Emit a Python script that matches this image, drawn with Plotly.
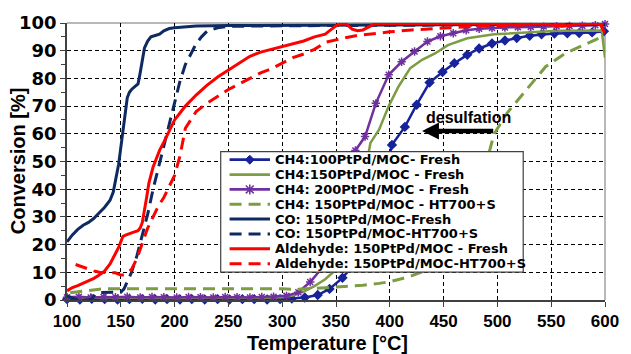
import plotly.graph_objects as go

# ---------------- data ----------------
ch4_100_x = [100,112,123,135,147,158,170,182,193,205,216,228,240,251,263,274,286,298,309,321,
             333,344,356,367,379,391,402,414,425,437,449,460,472,483,495,507,518,530,541,553,
             565,576,588,599]
ch4_100_y = [0.3,0.2,0.4,0.3,0.2,0.3,0.4,0.2,0.3,0.2,0.3,0.2,0.3,0.2,0.3,0.3,0.2,0.3,0.5,0.9,
             1.8,4.0,8.0,13,22,38,56,62.5,70.5,78.5,82.3,85.5,88.5,90.8,92.6,93.7,94.6,95.4,95.9,96.2,
             96.3,96.4,96.6,97.0]

ch4_150_x = [100,120,140,160,180,200,220,240,260,280,300,310,320,330,340,350,360,370,382,390,
             399,408,419,430,442,454,472,497,527,557,597,600]
ch4_150_y = [1.0,0.9,0.8,0.9,0.8,0.7,0.8,0.7,0.8,0.8,1.0,1.6,3.0,5.0,7.5,11,16,32,56.7,61.5,
             70,77,83.7,86.7,89,92,94.5,95.9,96.6,97.2,97.3,87.5]

ch4_200_x = [100,111,122,134,145,156,168,179,190,202,213,224,236,247,258,270,281,292,304,315,
             326,338,349,360,368,377,387,399,411,423,435,447,459,471,483,495,507,519,531,543,
             555,567,579,591,600]
ch4_200_y = [1.0,1.2,0.9,1.1,1.0,1.2,0.9,1.1,1.0,0.9,1.1,1.0,0.9,1.1,1.0,0.9,1.1,1.2,1.5,2.8,
             6.5,12,20,38,54,59,71,81.3,86,89.7,93.3,95.2,96.3,97.4,97.9,98.2,98.4,98.5,98.6,98.7,
             98.8,98.9,99.0,99.2,99.6]

ch4_ht_x = [103,110,120,130,140,150,160,180,200,220,240,260,280,300,310,320,330,340,350,360,
            375,390,400,410,420,430,440,460,480,490,497,509,527,545,563,580,594]
ch4_ht_y = [2.6,3.0,3.5,3.9,4.1,4.1,4.1,4.1,4.1,4.1,4.1,4.1,4.1,4.1,3.8,3.9,4.2,4.4,4.6,4.9,
            5.3,6.0,6.6,7.6,8.7,10.2,13,22,38,50,60,67.5,76,84.3,89,92,94.5]

co_x = [100,105,110,115,120,125,130,135,140,143,145,148,150,152,154,156,158,160,163,166,
        168,170,172,175,178,182,186,190,195,200,210,220,250,300,350,400,450,500,550,600]
co_y = [21,23.5,25.5,27,28,29.5,31.5,33.5,36,39,43,49,55,61,68,73,75,76,77,78,
        82,87,91,93.5,95,95.5,96,97.2,98,98.3,98.7,98.9,99.1,99.2,99.3,99.4,99.5,99.5,99.5,99.5]

co_ht_x = [100,105,110,115,120,123,126,130,140,150,153,156,160,165,170,175,180,185,190,195,
           200,205,210,215,220,225,230,240,250,300,400,500,600]
co_ht_y = [1.5,0.8,0,0,0,0.3,2,2.7,2.7,2.8,4,6.5,10,16,23,31,40,48,56,64,
           72,79,85,89,92.5,95,97,98.3,98.8,99,99.2,99.4,99.5]

ald_x = [100,105,110,115,120,125,130,135,140,143,146,148,150,152,155,158,162,166,168,170,
         172,174,176,178,180,183,186,190,195,200,205,210,220,230,240,250,260,270,280,290,
         300,310,320,330,340,345,350,355,360,365,370,375,380,385,390,400,450,500,520,540,
         560,580,595,600]
ald_y = [3.3,4.5,5.2,6,6.8,7.8,9,10.5,13,15,17.5,19,21,23,23.5,24,24.5,25,26,28,
         32,37,42,45,48,51,54,57,61,65,67.5,70,74,77.5,80.5,83,85.5,88,89.5,90.5,
         91.5,92.5,93.5,95,96,97.5,99,99.8,99.5,97.8,97.2,97.5,98.5,99.5,99.8,99.8,99.8,99.8,99.2,99.8,
         98.8,99.8,99.8,96.3]

ald_ht_x = [108,112,116,120,125,130,135,140,145,150,153,156,160,165,170,175,180,185,190,195,
            200,205,210,215,220,230,240,250,260,270,280,290,300,310,320,330,340,350,360,370,
            380,400,420,440,460,480,500,520,550,600]
ald_ht_y = [12.8,12.2,11.6,11,10.5,10,9.9,10,9.8,9,9,9.8,11,15,20.5,26,30,34,37,41,
            45,52,62,65,68,71,73.5,76,78,80,82,83.5,85.5,87.5,88.8,90.5,93,94,94.8,95.5,
            96,96.8,97.5,98,98.5,98.8,99,99.5,99.7,99.8]

series_names = [
    "CH4:100PtPd/MOC- Fresh",
    "CH4:150PtPd/MOC - Fresh",
    "CH4: 200PtPd/MOC - Fresh",
    "CH4: 150PtPd/MOC - HT700+S",
    "CO: 150PtPd/MOC-Fresh",
    "CO: 150PtPd/MOC-HT700+S",
    "Aldehyde: 150PtPd/MOC - Fresh",
    "Aldehyde: 150PtPd/MOC-HT700+S",
]
x_ticks = [100, 150, 200, 250, 300, 350, 400, 450, 500, 550, 600]
y_ticks = [0, 10, 20, 30, 40, 50, 60, 70, 80, 90, 100]

# ---------------- styles ----------------
BLUE = "#17239A"
NAVY = "#0E2A62"
GREEN = "#7D9C43"
PURPLE = "#7030A0"
RED = "#FF0000"
DASH = "12px,7px"

styles = [
    dict(color=BLUE, width=2.5, dash="solid", marker="diamond"),
    dict(color=GREEN, width=2.5, dash="solid", marker=None),
    dict(color=PURPLE, width=2.5, dash="solid", marker="asterisk-open"),
    dict(color=GREEN, width=3, dash=DASH, marker=None),
    dict(color=NAVY, width=3, dash="solid", marker=None),
    dict(color=NAVY, width=3, dash=DASH, marker=None),
    dict(color=RED, width=3, dash="solid", marker=None),
    dict(color=RED, width=3, dash=DASH, marker=None),
]
data = [(ch4_100_x, ch4_100_y), (ch4_150_x, ch4_150_y), (ch4_200_x, ch4_200_y),
        (ch4_ht_x, ch4_ht_y), (co_x, co_y), (co_ht_x, co_ht_y),
        (ald_x, ald_y), (ald_ht_x, ald_ht_y)]

fig = go.Figure()
for (xs, ys), name, st in zip(data, series_names, styles):
    kw = {}
    if st["marker"] == "diamond":
        kw = dict(mode="lines+markers",
                  marker=dict(symbol="diamond", size=8, color=st["color"]),
                  cliponaxis=False)
    elif st["marker"] == "asterisk-open":
        kw = dict(mode="lines+markers",
                  marker=dict(symbol="asterisk-open", size=7,
                              line=dict(color=st["color"], width=1.5)),
                  cliponaxis=False)
    else:
        kw = dict(mode="lines")
    fig.add_trace(go.Scatter(x=xs, y=ys, name=name,
                             line=dict(color=st["color"], width=st["width"], dash=st["dash"]),
                             showlegend=False, **kw))

# ---------------- layout geometry ----------------
W, H = 631, 354
ML, MR, MT, MB = 67, 18, 22, 54
PW, PH = W - ML - MR, H - MT - MB


def X(px):
    return (px - ML) / PW


def Y(py):
    return (H - MB - py) / PH


shapes = []
# top and right frame (grey)
shapes.append(dict(type="line", xref="paper", yref="paper", x0=0, x1=1, y0=1, y1=1,
                   line=dict(color="#A0A0A0", width=1.5), layer="between"))
shapes.append(dict(type="line", xref="paper", yref="paper", x0=1, x1=1, y0=0, y1=1,
                   line=dict(color="#A0A0A0", width=1.5), layer="between"))

# custom legend box
lx0, lx1, ly0, ly1 = 223, 530, 151, 272
shapes.append(dict(type="rect", xref="paper", yref="paper",
                   x0=X(lx0), x1=X(lx1), y0=Y(ly1), y1=Y(ly0),
                   fillcolor="white", line=dict(color="#404040", width=1.2), layer="above"))
annotations = []
row0, drow = 159.2, 14.9
for i, (name, st) in enumerate(zip(series_names, styles)):
    cy = row0 + i * drow
    shapes.append(dict(type="line", xref="paper", yref="paper",
                       x0=X(232), x1=X(273), y0=Y(cy), y1=Y(cy),
                       line=dict(color=st["color"], width=3 if st["width"] >= 3 else 2.8,
                                 dash=DASH if st["dash"] != "solid" else "solid"),
                       layer="above"))
    mx = 252.5
    if st["marker"] == "diamond":
        r = 4.5
        path = (f"M {X(mx)},{Y(cy - r)} L {X(mx + r)},{Y(cy)} "
                f"L {X(mx)},{Y(cy + r)} L {X(mx - r)},{Y(cy)} Z")
        shapes.append(dict(type="path", xref="paper", yref="paper", path=path,
                           fillcolor=st["color"], line=dict(color=st["color"], width=1),
                           layer="above"))
    elif st["marker"] == "asterisk-open":
        r = 4
        path = (f"M {X(mx - r)},{Y(cy - r)} L {X(mx + r)},{Y(cy + r)} "
                f"M {X(mx - r)},{Y(cy + r)} L {X(mx + r)},{Y(cy - r)} "
                f"M {X(mx)},{Y(cy - r - 1)} L {X(mx)},{Y(cy + r + 1)}")
        shapes.append(dict(type="path", xref="paper", yref="paper", path=path,
                           line=dict(color=st["color"], width=1.5), layer="above"))
    annotations.append(dict(xref="paper", yref="paper", x=X(276), y=Y(cy),
                            xanchor="left", yanchor="middle", showarrow=False,
                            text=f"<b>{name}</b>",
                            font=dict(family="DejaVu Sans", size=13, color="black")))

# axis titles
annotations.append(dict(xref="paper", yref="paper", x=X(331), y=Y(343),
                        xanchor="center", yanchor="middle", showarrow=False,
                        text="<b>Temperature [°C]</b>",
                        font=dict(family="Liberation Sans, Arial", size=20, color="black")))
annotations.append(dict(xref="paper", yref="paper", x=X(17), y=Y(160),
                        xanchor="center", yanchor="middle", showarrow=False, textangle=-90,
                        text="<b>Conversion [%]</b>",
                        font=dict(family="Liberation Sans, Arial", size=20, color="black")))

# desulfation note and arrow
annotations.append(dict(x=472.7, y=65.8, xref="x", yref="y", showarrow=False,
                        text="<b>desulfation</b>",
                        font=dict(family="Liberation Sans, Arial", size=16, color="black")))
annotations.append(dict(x=430, y=61, ax=497.5, ay=61, xref="x", yref="y",
                        axref="x", ayref="y", text="", showarrow=True,
                        arrowhead=2, arrowsize=0.75, arrowwidth=4.5, arrowcolor="black",
                        standoff=0, startstandoff=0))

fig.update_layout(
    width=W, height=H,
    margin=dict(l=ML, r=MR, t=MT, b=MB),
    paper_bgcolor="white", plot_bgcolor="white",
    showlegend=False,
    shapes=shapes, annotations=annotations,
    xaxis=dict(range=[100, 600], tickmode="array", tickvals=x_ticks,
               ticktext=[str(v) for v in x_ticks],
               showgrid=True, gridcolor="black", griddash="4px,3px", gridwidth=1,
               zeroline=False, showline=True, linecolor="#404040", linewidth=1.5,
               ticks="outside", ticklen=5, tickcolor="#404040",
               tickfont=dict(family="Liberation Sans, Arial", size=17, color="black",
                             weight="bold")),
    yaxis=dict(range=[0, 100], tickmode="array", tickvals=y_ticks,
               ticktext=[str(v) for v in y_ticks],
               showgrid=True, gridcolor="black", griddash="4px,3px", gridwidth=1,
               zeroline=False, showline=True, linecolor="#404040", linewidth=1.5,
               ticks="outside", ticklen=5, tickcolor="#404040",
               minor=dict(dtick=5, tick0=0, ticks="outside", ticklen=4,
                          tickcolor="#404040", showgrid=False),
               tickfont=dict(family="DejaVu Sans", size=18, color="black", weight="bold")),
)

fig.write_html("out.html")
